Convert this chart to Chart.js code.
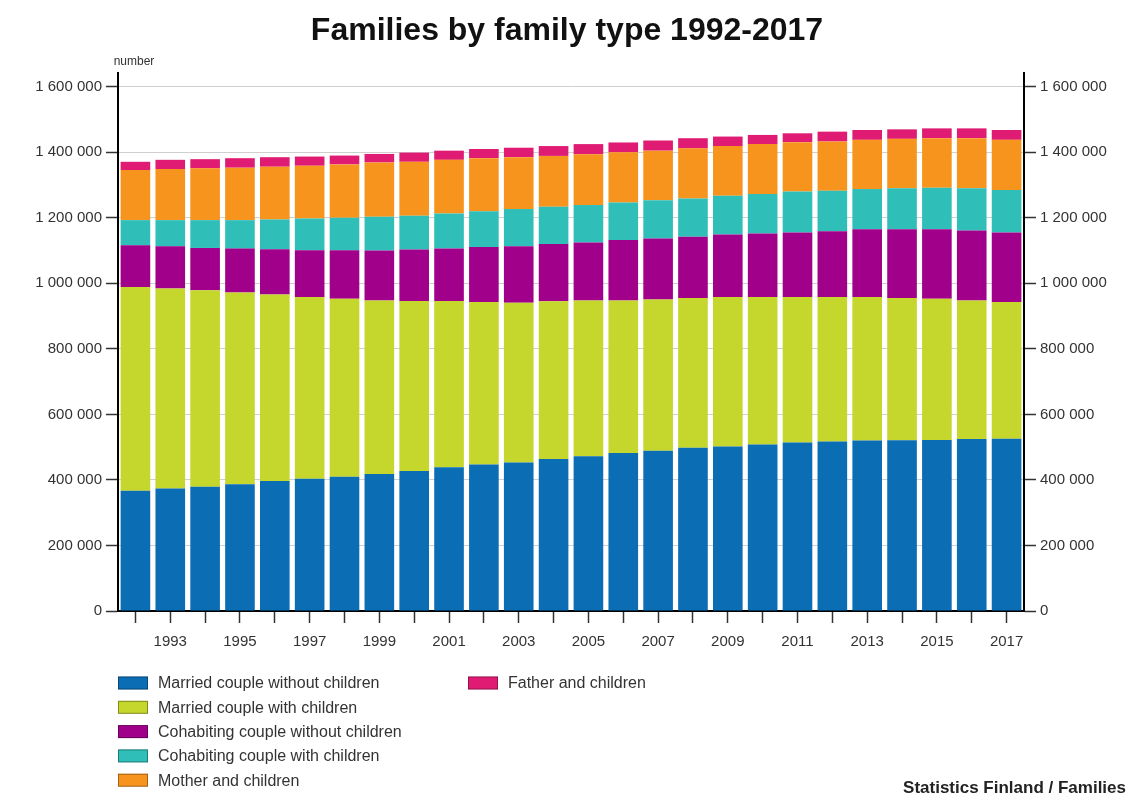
<!DOCTYPE html>
<html>
<head>
<meta charset="utf-8">
<script src="https://cdn.jsdelivr.net/npm/chart.js@4"></script>
<style>
html,body{margin:0;padding:0;background:#fff;}
#wrap{width:1134px;height:798px;position:relative;}
</style>
</head>
<body>
<div id="wrap"><canvas id="c" width="1134" height="798"></canvas></div>
<script>
const years = ['1992','1993','1994','1995','1996','1997','1998','1999','2000','2001','2002','2003','2004','2005','2006','2007','2008','2009','2010','2011','2012','2013','2014','2015','2016','2017'];
const marriedNoChildren = [367000,374000,379000,387000,397000,404000,410000,418000,427000,439000,447000,453000,464000,472000,482000,489000,498000,502000,508000,514000,517000,520000,521000,522000,525000,526000];
const marriedWithChildren = [622000,610000,600000,585000,569000,554000,543000,530000,519000,507000,496000,488000,481000,476000,466000,462000,457000,456000,450000,444000,441000,438000,434000,431000,423000,417000];
const cohabNoChildren = [127000,129000,129000,134000,138000,143000,148000,152000,157000,160000,168000,172000,175000,177000,184000,186000,187000,191000,194000,197000,201000,207000,210000,212000,213000,212000];
const cohabWithChildren = [77000,80000,85000,87000,91000,97000,99000,103000,103000,107000,109000,114000,114000,114000,115000,117000,117000,118000,121000,125000,124000,123000,125000,127000,129000,130000];
const motherChildren = [153000,156000,158000,160000,161000,161000,163000,166000,165000,164000,162000,158000,155000,155000,153000,151000,153000,152000,152000,151000,150000,150000,151000,151000,153000,153000];
const fatherChildren = [25000,28000,28000,29000,29000,28000,27000,26000,28000,28000,28000,29000,30000,31000,30000,31000,31000,29000,28000,27000,30000,30000,29000,30000,30000,30000];
const yTicks = [0,200000,400000,600000,800000,1000000,1200000,1400000,1600000];

const seriesLabels = ['Married couple without children','Married couple with children','Cohabiting couple without children','Cohabiting couple with children','Mother and children','Father and children'];
const seriesColors = ['#0b6db3','#c5d62c','#a1008a','#2fbfb8','#f7941d','#df1b73'];
const seriesData = [marriedNoChildren,marriedWithChildren,cohabNoChildren,cohabWithChildren,motherChildren,fatherChildren];

const fmt = v => String(v).replace(/\B(?=(\d{3})+(?!\d))/g,' ');
const FONT = "'Liberation Sans', Arial, sans-serif";

const extras = {
  id:'extras',
  afterDraw(chart){
    const ctx = chart.ctx;
    const ca = chart.chartArea;
    ctx.save();
    // axis unit label
    ctx.fillStyle = '#333';
    ctx.font = "12px " + FONT;
    ctx.textAlign = 'center';
    ctx.textBaseline = 'middle';
    ctx.fillText('number', ca.left + 16, 62);
    // legend
    ctx.font = "16px " + FONT;
    ctx.textAlign = 'left';
    chart.data.datasets.forEach((ds,i)=>{
      const col = Math.floor(i/5), row = i%5;
      const x = ca.left + col*350;
      const y = 683 + row*24.3;
      ctx.fillStyle = ds.backgroundColor;
      ctx.fillRect(x, y-6.5, 30, 13);
      ctx.strokeStyle = 'rgba(0,0,0,0.35)';
      ctx.lineWidth = 1;
      ctx.strokeRect(x+0.5, y-6, 29, 12);
      ctx.fillStyle = '#333';
      ctx.fillText(ds.label, x+40, y+1);
    });
    // source
    ctx.font = "bold 17px " + FONT;
    ctx.textAlign = 'right';
    ctx.fillStyle = '#222';
    ctx.fillText('Statistics Finland / Families', 1126, 788);
    ctx.restore();
  }
};

const yCommon = {
  min:0, max:1642000,
  afterBuildTicks(scale){ scale.ticks = yTicks.map(v=>({value:v})); },
  ticks:{ callback:v=>fmt(v), color:'#333', font:{family:FONT,size:15}, padding:4 },
  border:{ display:true, color:'#000', width:2 },
};

new Chart(document.getElementById('c'), {
  type:'bar',
  data:{
    labels: years,
    datasets: seriesLabels.map((l,i)=>({
      label:l, data:seriesData[i], backgroundColor:seriesColors[i],
      borderWidth:0, barPercentage:0.85, categoryPercentage:1
    }))
  },
  options:{
    responsive:false, animation:false,
    layout:{ padding:{ top:0, left:0, right:0, bottom:142 } },
    plugins:{
      legend:{ display:false },
      tooltip:{ enabled:false },
      title:{ display:true, text:'Families by family type 1992-2017',
        font:{family:FONT, size:32, weight:'bold'}, color:'#111',
        padding:{top:12, bottom:22.6} }
    },
    scales:{
      x:{
        stacked:true,
        grid:{ display:true, drawOnChartArea:false, offset:false, tickLength:12, tickColor:'#333', tickWidth:1.5 },
        border:{ display:true, color:'#000', width:2 },
        ticks:{ autoSkip:false, maxRotation:0, color:'#333', font:{family:FONT,size:15}, padding:10,
          callback:(v,i)=> (parseInt(years[i])%2===1 ? years[i] : '') },
        afterFit(s){ s.height = 45; }
      },
      y:{
        ...yCommon, stacked:true, position:'left',
        grid:{ color:'#cfcfcf', lineWidth:1, tickLength:12, tickColor:'#333', tickWidth:1.5 },
        afterFit(s){ s.width = 118; }
      },
      y2:{
        ...yCommon, position:'right',
        grid:{ drawOnChartArea:false, tickLength:12, tickColor:'#333', tickWidth:1.5 },
        afterFit(s){ s.width = 110; }
      }
    }
  },
  plugins:[extras]
});
</script>
</body>
</html>
